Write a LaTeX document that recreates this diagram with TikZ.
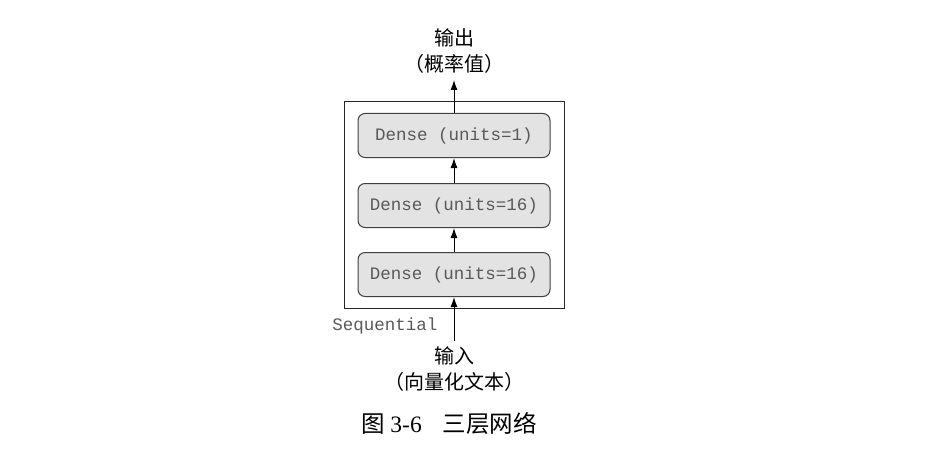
\documentclass[tikz,border=0pt]{standalone}
\usepackage{fontspec}
\setmainfont{Liberation Serif}
\setmonofont{Liberation Mono}
\newfontfamily\cjk{Noto Sans CJK SC}
\usetikzlibrary{arrows.meta}
\begin{document}
\begin{tikzpicture}[x=1pt,y=-1pt,
  layer/.style={draw=black!75,line width=1pt,fill=black!11,rounded corners=7pt,minimum width=192pt,minimum height=44pt,inner sep=0pt,font=\ttfamily\fontsize{17.5}{20}\selectfont,text=black!65},
  flow/.style={line width=1pt,-{Latex[length=10pt,width=7pt]}},
  cn/.style={font=\cjk\fontsize{20}{22}\selectfont,inner sep=0pt}]
\useasboundingbox (0,0) rectangle (936,468);
\node[draw=black!85,line width=0.8pt,minimum width=220pt,minimum height=207pt,inner sep=0pt] (outer) at (454,204.5) {};
\node[layer] (d1) at (454,135.5) {Dense (units=1)};
\node[layer] (d2) at (454,205.5) {Dense (units=16)};
\node[layer] (d3) at (454,274.5) {Dense (units=16)};
\node[cn] (out1) at (454,38) {输出};
\node[cn] (out2) at (454,64) {（概率值）};
\coordinate (otip) at (454,80);
\node[font=\ttfamily\fontsize{17.5}{20}\selectfont,text=black!65,inner sep=0pt] (seq) at (385,326) {Sequential};
\coordinate (istart) at (454,341);
\node[cn] (in1) at (454,356) {输入};
\node[cn] (in2) at (454,382) {（向量化文本）};
\node[font=\fontsize{23.5}{26}\selectfont,inner sep=0pt] (cap) at (449,424) {{\cjk 图}~3-6\hspace{0.9em}{\cjk 三层网络}};
\draw[flow] (d1.north) -- (otip);
\draw[flow] (d2.north) -- (d1.south);
\draw[flow] (d3.north) -- (d2.south);
\draw[flow] (istart) -- (d3.south);
\end{tikzpicture}
\end{document}
